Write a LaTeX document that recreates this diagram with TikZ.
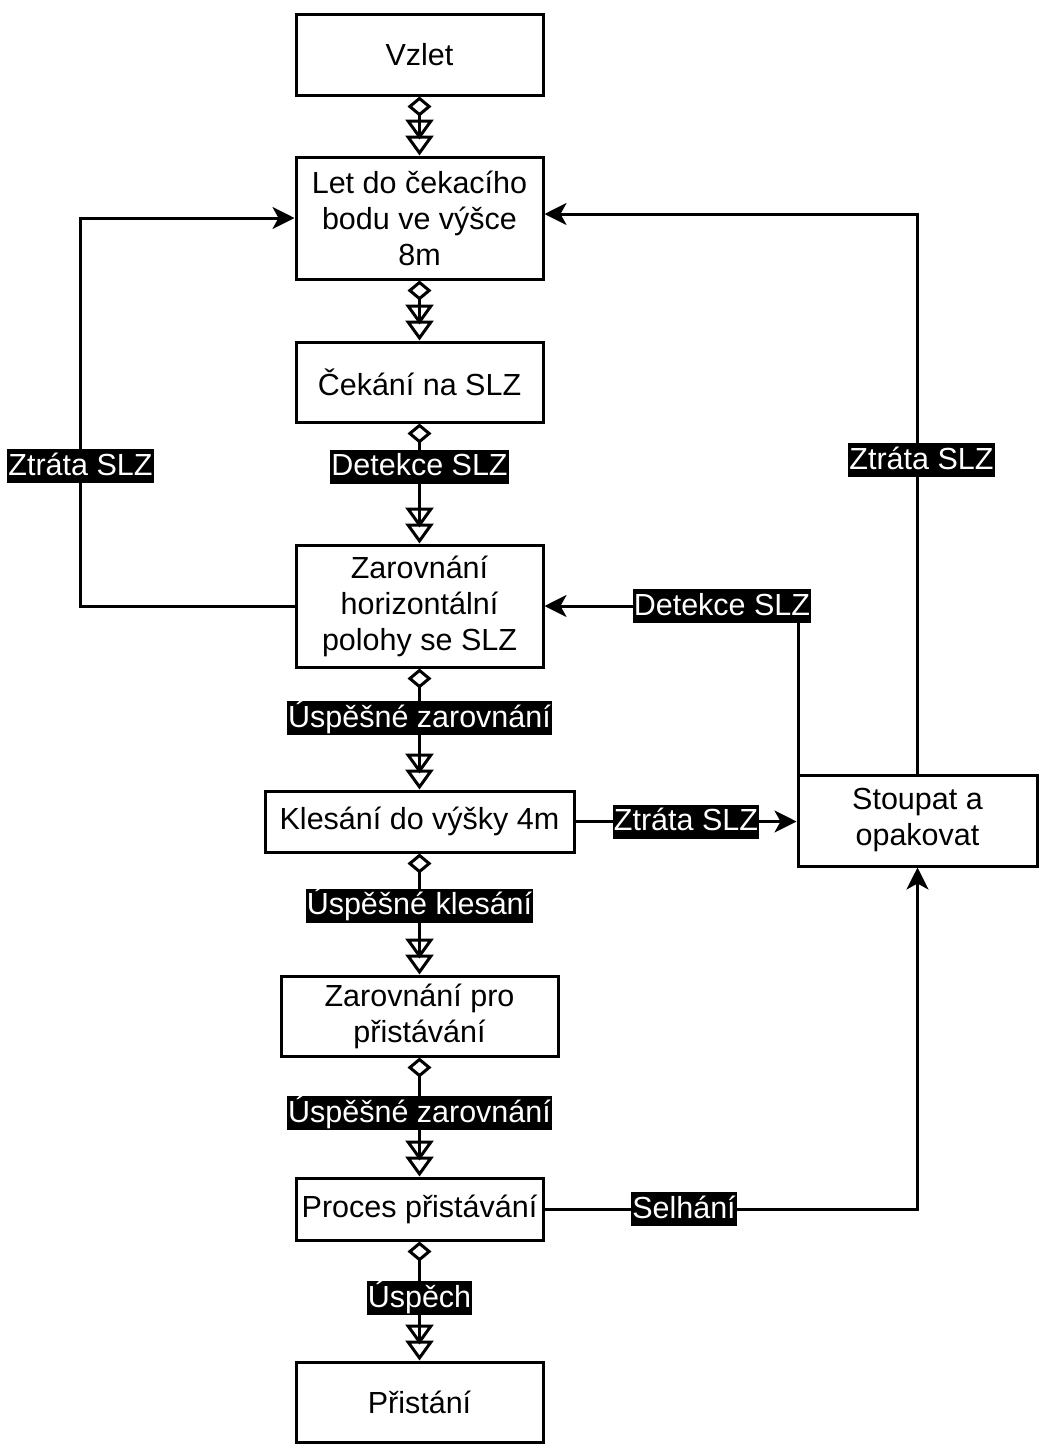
\documentclass[tikz,border=0pt]{standalone}
\usepackage{fontspec}
\setmainfont{Liberation Sans}
\usetikzlibrary{arrows.meta,calc}
\begin{document}
\begin{tikzpicture}[x=1pt,y=-1pt,
  txt/.style={font=\fontsize{30.5}{36}\selectfont},
  box/.style={txt,draw,line width=3pt,inner sep=0pt,align=center},
  lbl/.style={txt,fill=black,text=white,inner xsep=1pt,inner ysep=1pt,text height=25pt,text depth=7pt},
  flow/.style={line width=3pt,{Diamond[open,line width=3pt,length=20pt,width=24pt]}-{Triangle[open,line width=3pt,length=20pt,width=28pt,sep=-4pt]Triangle[open,line width=3pt,length=20pt,width=28pt]}},
  back/.style={line width=3pt,-{Stealth[length=22pt,width=22pt,inset=6pt]}}
]
\useasboundingbox (0,0) rectangle (1039,1444);

% states of the landing procedure
\node[box,minimum width=247pt,minimum height=81pt]  (vzlet)  at (419.5,54.5)  {Vzlet};
\node[box,minimum width=247pt,minimum height=122pt] (let)    at (419.5,218)   {Let do čekacího\\bodu ve výšce\\8m};
\node[box,minimum width=247pt,minimum height=80pt]  (cekani) at (419.5,382)   {Čekání na SLZ};
\node[box,minimum width=247pt,minimum height=122pt] (zarh)   at (419.5,606)   {Zarovnání\\horizontální\\polohy se SLZ};
\node[box,minimum width=309pt,minimum height=61pt]  (kles)   at (419.5,821.5) {Klesání do výšky 4m};
\node[box,minimum width=277pt,minimum height=80pt]  (zarp)   at (419.5,1016)  {Zarovnání pro\\přistávání};
\node[box,minimum width=247pt,minimum height=62pt]  (proc)   at (419.5,1209)  {Proces přistávání};
\node[box,minimum width=247pt,minimum height=80pt]  (prist)  at (419.5,1402)  {Přistání};
\node[box,minimum width=239pt,minimum height=91pt]  (stoup)  at (917.5,820.5) {Stoupat a\\opakovat};

% main sequence
\draw[flow] (vzlet) -- (let);
\draw[flow] (let) -- (cekani);
\draw[flow] (cekani) -- node[lbl,pos=0.36]{Detekce SLZ} (zarh);
\draw[flow] (zarh) -- node[lbl,pos=0.41]{Úspěšné zarovnání} (kles);
\draw[flow] (kles) -- node[lbl,pos=0.43]{Úspěšné klesání} (zarp);
\draw[flow] (zarp) -- node[lbl,pos=0.47]{Úspěšné zarovnání} (proc);
\draw[flow] (proc) -- node[lbl,pos=0.475]{Úspěch} (prist);

% recovery paths
\draw[back] (zarh.west) -- ++(-214,0) |- node[lbl,pos=0.18]{Ztráta SLZ} (let.west);
\draw[back] (stoup.north) |- node[lbl,pos=0.28,xshift=4pt]{Ztráta SLZ} ([yshift=4pt]let.east);
\draw[back] ([xshift=1.5pt]stoup.north west) |- node[lbl,pos=0.65]{Detekce SLZ} (zarh.east);
\draw[back] (kles.east) -- node[lbl]{Ztráta SLZ} (stoup.west |- kles.east);
\draw[back] (proc.east) -| node[lbl,pos=0.187]{Selhání} (stoup.south);
\end{tikzpicture}
\end{document}
